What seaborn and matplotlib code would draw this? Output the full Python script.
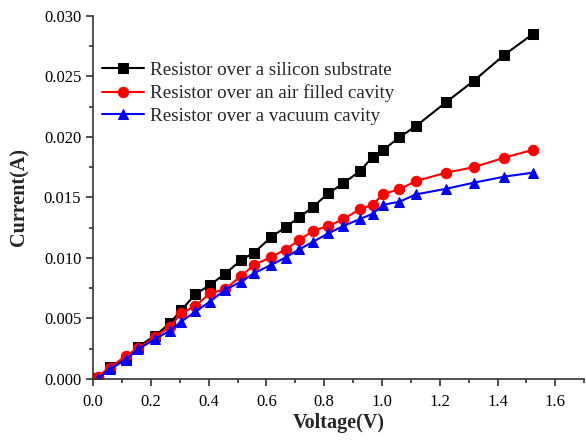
import matplotlib
matplotlib.use("Agg")
import matplotlib.pyplot as plt
import seaborn as sns
import pandas as pd
from matplotlib.ticker import MultipleLocator, FormatStrFormatter

voltage = [0.016, 0.057, 0.112, 0.155, 0.213, 0.265, 0.305, 0.354, 0.404,
           0.456, 0.512, 0.557, 0.615, 0.666, 0.714, 0.762, 0.814, 0.866,
           0.922, 0.968, 1.005, 1.06, 1.118, 1.222, 1.317, 1.423, 1.521]
i_silicon = [0.0001, 0.0010, 0.0016, 0.00267, 0.00355, 0.0046, 0.0057, 0.0070,
             0.00777, 0.00868, 0.00983, 0.01044, 0.0117, 0.01256, 0.01336,
             0.01424, 0.01535, 0.01617, 0.01715, 0.01835, 0.01895, 0.01997,
             0.02091, 0.02288, 0.02463, 0.02678, 0.02849]
i_air = [0.0002, 0.00091, 0.0019, 0.00254, 0.00345, 0.00432, 0.00543, 0.00603,
         0.00708, 0.00741, 0.00851, 0.00942, 0.01006, 0.0107, 0.01149, 0.01226,
         0.01264, 0.0132, 0.01402, 0.01441, 0.0153, 0.01568, 0.01636, 0.01705,
         0.0175, 0.01829, 0.01893]
i_vacuum = [0.0, 0.0008, 0.00157, 0.00245, 0.00328, 0.00399, 0.00474, 0.00558,
            0.00639, 0.00736, 0.00804, 0.00874, 0.00942, 0.01004, 0.01072,
            0.01135, 0.01204, 0.01264, 0.0132, 0.01366, 0.0144, 0.01465,
            0.01526, 0.01572, 0.01622, 0.01672, 0.01705]
labels = ["Resistor over a silicon substrate",
          "Resistor over an air filled cavity",
          "Resistor over a vacuum cavity"]

sns.set_style("ticks")
plt.rcParams['font.family'] = ['Liberation Serif', 'DejaVu Serif']

fig = plt.figure(figsize=(5.86, 4.44), dpi=100)
ax = fig.add_axes([0.159, 0.1464, 0.838, 0.8176])

series = [(i_silicon, "black", "s", 6.5), (i_air, "red", "o", 7.5), (i_vacuum, "blue", "^", 7.5)]
for (vals, col, mk, ms), lab in zip(series, labels):
    df = pd.DataFrame({"V": voltage, "I": vals})
    sns.lineplot(data=df, x="V", y="I", ax=ax, color=col, marker=mk,
                 markersize=ms, markeredgecolor=col, linewidth=1.5,
                 label=lab, sort=False)

ax.set_xlim(0, 1.7)
ax.set_ylim(0, 0.030)
ax.xaxis.set_major_locator(MultipleLocator(0.2))
ax.xaxis.set_minor_locator(MultipleLocator(0.1))
ax.yaxis.set_major_locator(MultipleLocator(0.005))
ax.yaxis.set_minor_locator(MultipleLocator(0.0025))
ax.xaxis.set_major_formatter(FormatStrFormatter("%.1f"))
ax.yaxis.set_major_formatter(FormatStrFormatter("%.3f"))
ax.tick_params(which="major", direction="out", length=5, width=1.2, labelsize=12,
               colors="#333333", labelcolor="black")
ax.tick_params(axis="x", which="major", pad=6)
ax.tick_params(which="minor", direction="out", length=3, width=1.2, colors="#333333")

for s in ["top", "right"]:
    ax.spines[s].set_visible(False)
for s in ["left", "bottom"]:
    ax.spines[s].set_linewidth(1.2)
    ax.spines[s].set_color("#333333")

ax.set_xlabel("Voltage(V)", fontsize=14.5, fontweight="bold", labelpad=2)
ax.set_ylabel("Current(A)", fontsize=14.5, fontweight="bold", labelpad=10)

ax.legend(loc="upper left", bbox_to_anchor=(0.018, 0.874), frameon=False,
          fontsize=13.7, borderpad=0, borderaxespad=0, handlelength=2.2,
          handletextpad=0.32, labelspacing=0.28)

fig.savefig("out.png", dpi=100)
